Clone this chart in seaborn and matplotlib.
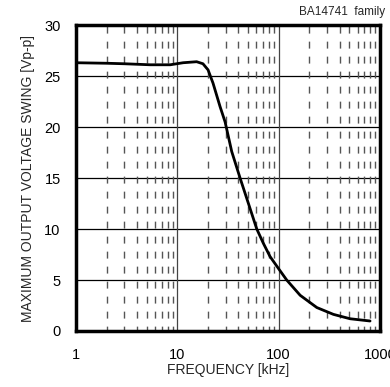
import numpy as np
import pandas as pd
import matplotlib
matplotlib.use("Agg")
import matplotlib.pyplot as plt
import seaborn as sns
from matplotlib.ticker import FixedLocator, NullFormatter

# Data
freq_khz = [1, 2, 3, 5.4, 8.5, 11.4, 15.5, 17.9, 20.1, 22.5, 26.4, 29.6, 34.4, 41.6,
            50.3, 60.8, 70.6, 82.2, 100, 120, 163, 238, 347, 507, 798]
vswing = [26.3, 26.25, 26.2, 26.1, 26.1, 26.3, 26.4, 26.2, 25.6, 24.3, 22.0, 20.5, 17.6, 15.0,
          12.5, 10.0, 8.6, 7.3, 6.1, 5.0, 3.5, 2.3, 1.63, 1.2, 0.98]
x_ticks = [1, 10, 100, 1000]
x_ticklabels = ["1", "10", "100", "1000"]
y_ticks = [0, 5, 10, 15, 20, 25, 30]
minor_x = [m * d for d in (1, 10, 100) for m in range(2, 10)]

sns.set_style("white")
plt.rcParams['font.family'] = ['Liberation Sans', 'DejaVu Sans']

fig = plt.figure(figsize=(3.9, 3.87), dpi=100)
ax = fig.add_axes([76 / 390, 1 - 331 / 387, 304 / 390, 306 / 387])

df = pd.DataFrame({"freq": freq_khz, "v": vswing})

# grid
for y in y_ticks[1:-1]:
    ax.axhline(y, color="black", lw=0.9, zorder=1)
for x in x_ticks[1:-1]:
    ax.axvline(x, color="#444444", lw=0.9, zorder=1)
for x in minor_x:
    ax.axvline(x, color="#555555", lw=1.0, ls=(1.5, (5, 5.8)), zorder=1)

sns.lineplot(data=df, x="freq", y="v", ax=ax, color="black", lw=2.0, zorder=3)

ax.set_xscale("log")
ax.set_xlim(1, 1000)
ax.set_ylim(0, 30)
ax.xaxis.set_major_locator(FixedLocator(x_ticks))
ax.set_xticklabels(x_ticklabels)
ax.xaxis.set_minor_locator(FixedLocator(minor_x))
ax.xaxis.set_minor_formatter(NullFormatter())
ax.set_yticks(y_ticks)
ax.tick_params(axis="both", which="major", direction="in", length=4, width=1.5,
               labelsize=10.5, colors="black")
ax.tick_params(axis="x", which="minor", length=0)
ax.tick_params(axis="x", pad=12)
ax.tick_params(axis="y", pad=11)

for s in ax.spines.values():
    s.set_linewidth(2.5)
    s.set_color("black")

ax.set_xlabel("FREQUENCY [kHz]", fontsize=10, labelpad=1)
ax.set_ylabel("MAXIMUM OUTPUT VOLTAGE SWING [Vp-p]", fontsize=10, labelpad=7)
fig.text(385 / 390, 1 - 12 / 387, "BA14741  family", ha="right", va="center", fontsize=8.5)

fig.savefig("out.png", dpi=100)
